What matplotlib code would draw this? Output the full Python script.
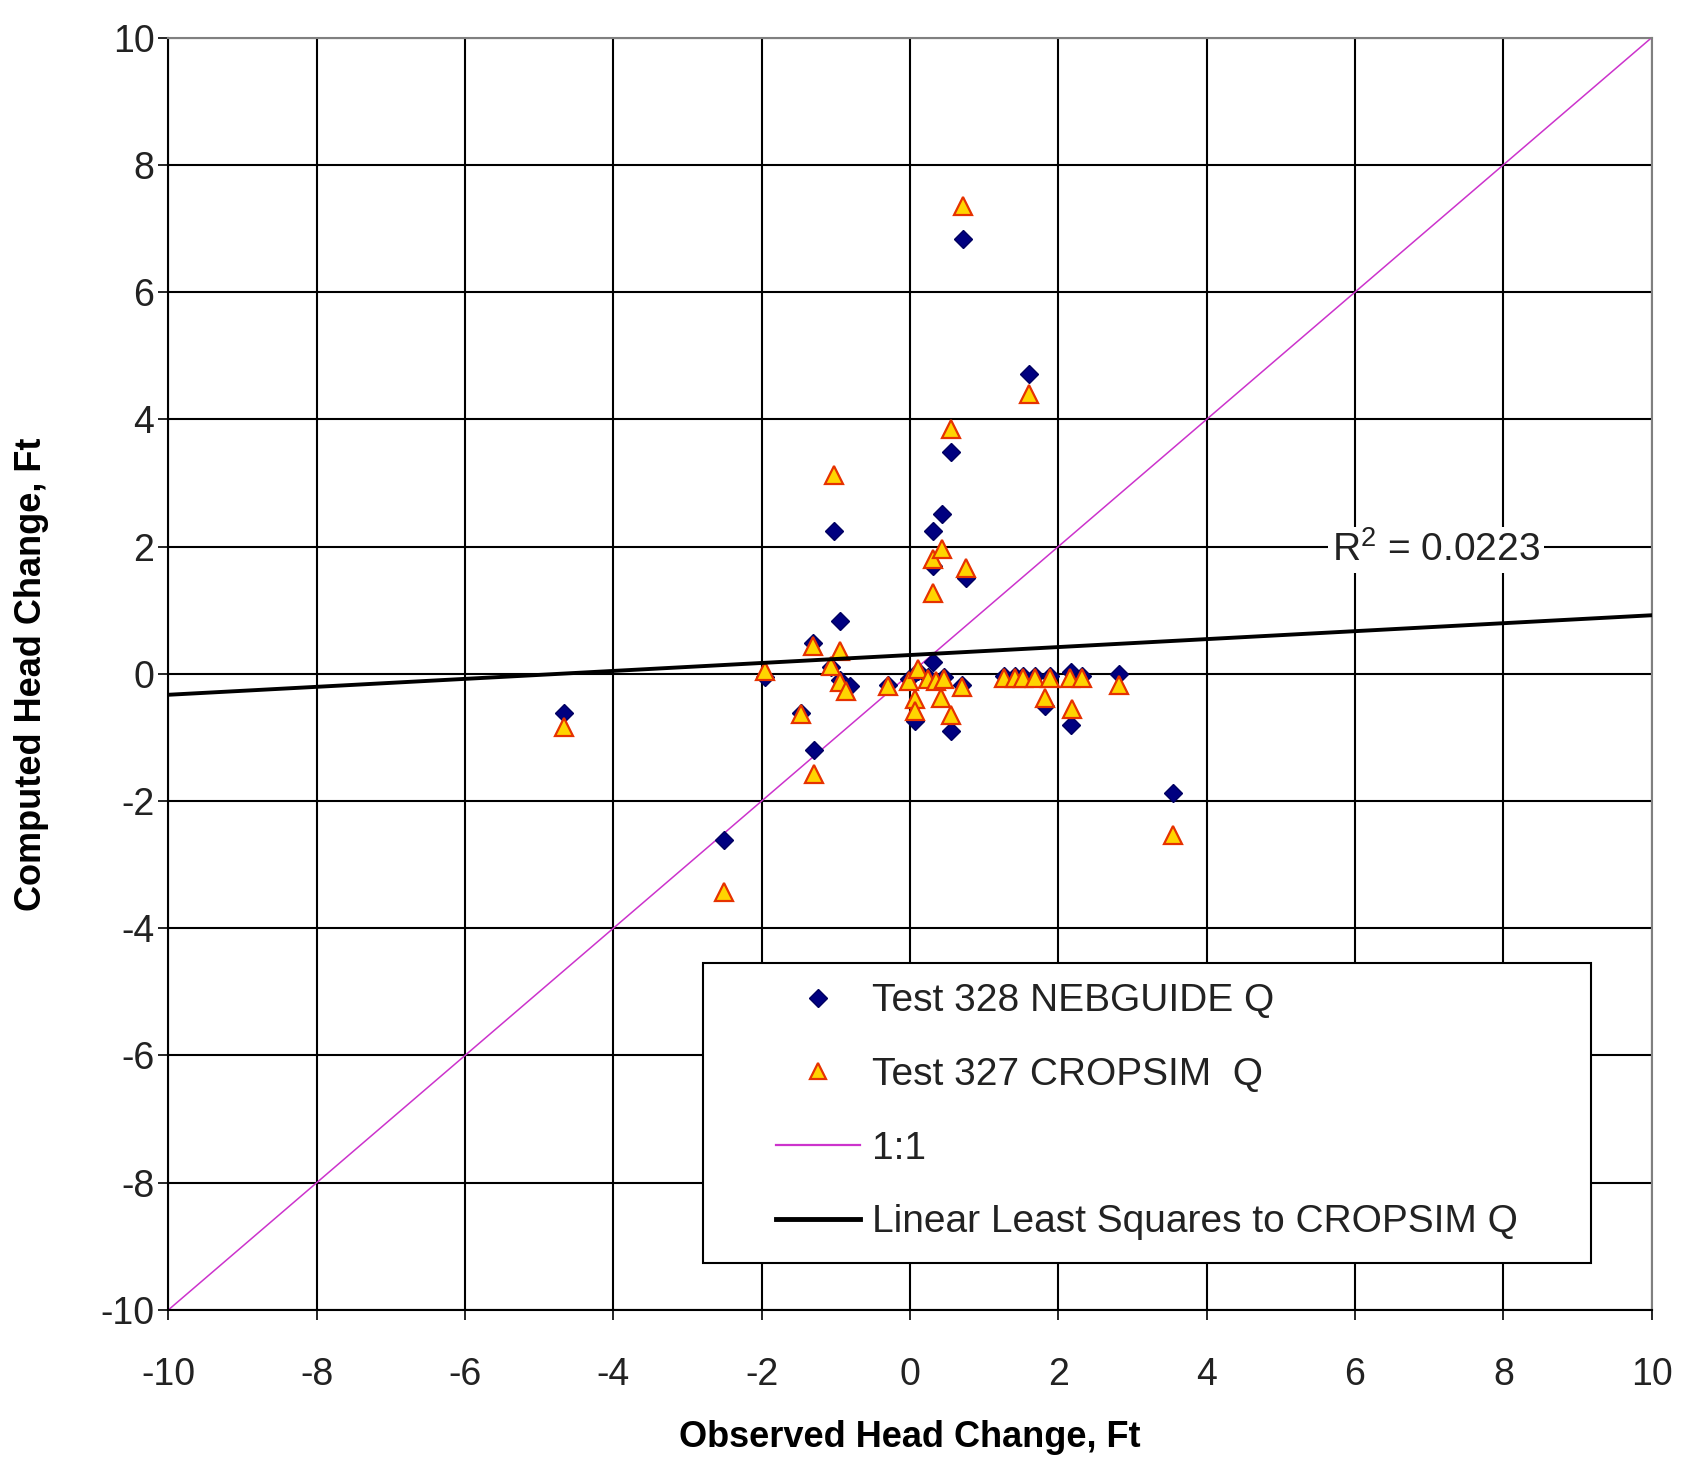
import matplotlib
matplotlib.use("Agg")
import matplotlib.pyplot as plt
from matplotlib.patches import Rectangle
from matplotlib.lines import Line2D

plt.rcParams['font.family'] = ['Liberation Sans', 'DejaVu Sans']
plt.rcParams['mathtext.fontset'] = 'custom'
plt.rcParams['mathtext.rm'] = 'Liberation Sans'
plt.rcParams['axes.unicode_minus'] = False

# ---- data ----
neb_x = [-4.66, -2.51, -1.96, -1.31, -1.29, -1.02, -0.94, -0.81, 0.07, 0.31,
         0.31, 0.31, 0.43, 0.55, 0.55, 0.72, 0.75, 1.60, 1.82, 2.17,
         2.17, 2.82, 3.54,
         -1.47, -1.06, -0.94, -0.29, -0.02, 0.11, 0.24, 0.46, 0.70,
         1.27, 1.41, 1.52, 1.68, 1.89, 2.32]
neb_y = [-0.61, -2.62, -0.05, 0.49, -1.20, 2.25, 0.83, -0.19, -0.75, 0.19,
         1.70, 2.25, 2.51, 3.49, -0.90, 6.83, 1.50, 4.72, -0.51, -0.80,
         0.03, 0.00, -1.88,
         -0.62, 0.10, -0.10, -0.17, -0.08, 0.05, -0.05, -0.05, -0.18,
         -0.03, -0.03, -0.03, -0.03, -0.03, -0.03]

crop_x = [-4.66, -2.51, -1.96, -1.47, -1.31, -1.29, -1.06, -1.02, -0.94, -0.94,
          -0.86, -0.29, -0.02, 0.07, 0.07, 0.11, 0.24, 0.31, 0.31, 0.35,
          0.42, 0.43, 0.46, 0.55, 0.55, 0.70, 0.72, 0.75, 1.27, 1.41,
          1.52, 1.60, 1.68, 1.82, 1.89, 2.16, 2.18, 2.32, 2.82, 3.54]
crop_y = [-0.84, -3.43, 0.05, -0.63, 0.44, -1.58, 0.13, 3.13, 0.36, -0.13,
          -0.27, -0.19, -0.11, -0.40, -0.59, 0.08, -0.08, 1.27, 1.81, -0.11,
          -0.38, 1.96, -0.08, 3.84, -0.65, -0.21, 7.35, 1.67, -0.06, -0.06,
          -0.06, 4.39, -0.06, -0.38, -0.06, -0.06, -0.56, -0.06, -0.17, -2.54]

fit_slope = 0.0625
fit_intercept = 0.295
r2_text = r'$\mathregular{R^2}$ = 0.0223'

axis_range = [-10, 10]
ticks = [-10, -8, -6, -4, -2, 0, 2, 4, 6, 8, 10]

labels = ['Test 328 NEBGUIDE Q', 'Test 327 CROPSIM  Q', '1:1',
          'Linear Least Squares to CROPSIM Q']

# ---- figure ----
fig = plt.figure(figsize=(16.83, 14.63), dpi=100)
ax = fig.add_axes([0.1000, 0.1046, 0.8814, 0.8697])
ax.set_xlim(axis_range)
ax.set_ylim(axis_range)
ax.set_xticks(ticks)
ax.set_yticks(ticks)
ax.grid(True, color='black', linewidth=1.5, zorder=0)
ax.set_axisbelow(True)

for s in ['left', 'bottom']:
    ax.spines[s].set_color('black')
    ax.spines[s].set_linewidth(1.5)
for s in ['top', 'right']:
    ax.spines[s].set_color('#808080')
    ax.spines[s].set_linewidth(1.5)

ax.tick_params(axis='both', direction='out', length=7, width=1.2,
               colors='black', labelsize=27, labelcolor='#222222')
ax.tick_params(axis='x', pad=27)
ax.tick_params(axis='y', pad=3)

one_color = '#CC33CC'
ax.plot(axis_range, axis_range, color=one_color, linewidth=1.1, zorder=2)

ax.plot(neb_x, neb_y, linestyle='none', marker='D', markersize=9.5,
        markerfacecolor='#000080', markeredgecolor='#000060',
        markeredgewidth=1.0, zorder=3)
ax.plot(crop_x, crop_y, linestyle='none', marker='^', markersize=13.5,
        markerfacecolor='#FFD400', markeredgecolor='#E63200',
        markeredgewidth=1.6, zorder=4)

fit_y = [fit_intercept + fit_slope * v for v in axis_range]
ax.plot(axis_range, fit_y, color='black', linewidth=2.8, zorder=5)

ax.text(7.09, 1.95, r2_text, ha='center', va='center', fontsize=28,
        color='#222222', zorder=6,
        bbox=dict(facecolor='white', edgecolor='none', pad=3))

ax.set_xlabel('Observed Head Change, Ft', fontsize=26, fontweight='bold',
              va='center')
ax.xaxis.set_label_coords(0.5, -0.1006)
ax.set_ylabel('Computed Head Change, Ft', fontsize=26, fontweight='bold',
              va='center')
ax.yaxis.set_label_coords(-0.0919, 0.5)

# legend frame
ax.add_patch(Rectangle((0.3605, 0.0369), 0.5985, 0.2358,
                       transform=ax.transAxes, facecolor='white',
                       edgecolor='black', linewidth=1.5, zorder=7))
handles = [
    Line2D([], [], linestyle='none', marker='D', markersize=9,
           markerfacecolor='#000080', markeredgecolor='#000060'),
    Line2D([], [], linestyle='none', marker='^', markersize=12,
           markerfacecolor='#FFD400', markeredgecolor='#E63200',
           markeredgewidth=1.6),
    Line2D([], [], color=one_color, linewidth=1.6),
    Line2D([], [], color='black', linewidth=3.5),
]
leg = ax.legend(handles, labels, loc='upper left',
                bbox_to_anchor=(0.4096, 0.2568), frameon=False,
                fontsize=28, handlelength=2.16, handletextpad=0.3,
                labelspacing=0.97, borderpad=0.0, borderaxespad=0.0)
leg.set_zorder(8)
for t in leg.get_texts():
    t.set_color('#222222')

fig.savefig('out.png', dpi=100)
